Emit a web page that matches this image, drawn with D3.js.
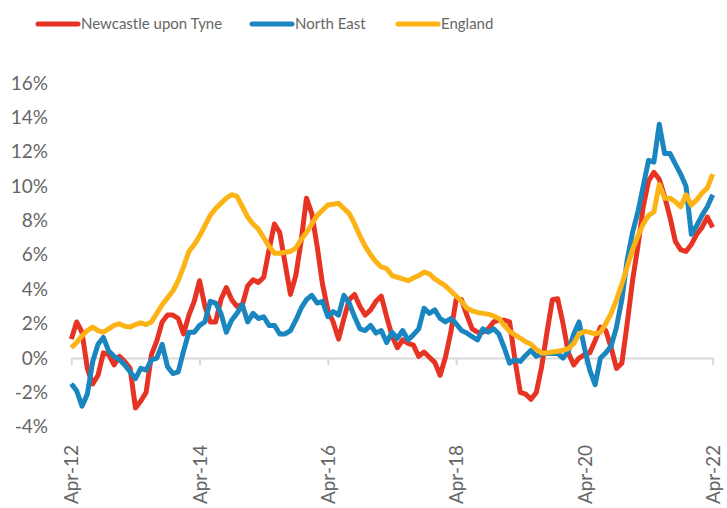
<!DOCTYPE html>
<html>
<head>
<meta charset="utf-8">
<script src="https://cdn.jsdelivr.net/npm/d3@7"></script>
<style>
  body { margin: 0; background: #fff; }
  text { font-family: Lato, "Open Sans", sans-serif; fill: #666; }
</style>
</head>
<body>
<svg id="chart" width="727" height="508"></svg>
<script>
// Monthly % change, Apr-12 .. Apr-22 (121 months)
var newcastle = [1.1, 2.1, 1.5, -0.6, -1.5, -1.0, 0.3, 0.2, -0.4, 0.1, -0.2, -0.6,
  -2.9, -2.5, -2.0, 0.2, 1.0, 2.1, 2.5, 2.5, 2.3, 1.4, 2.5, 3.3,
  4.5, 3.0, 2.1, 2.1, 3.4, 4.1, 3.4, 3.0, 3.1, 4.2, 4.55, 4.4,
  4.7, 6.3, 7.8, 7.3, 5.5, 3.7, 4.8, 6.8, 9.3, 8.4, 6.5, 4.3,
  2.8, 2.1, 1.1, 2.3, 3.4, 3.7, 3.0, 2.5, 2.8, 3.3, 3.6, 2.4,
  1.3, 0.6, 1.05, 0.85, 0.75, 0.1, 0.35, 0.05, -0.25, -1.0, 0.05, 1.5,
  3.4, 3.4, 2.5, 1.7, 1.5, 1.5, 1.7, 2.1, 2.2, 2.2, 2.1, -0.1,
  -2.0, -2.1, -2.4, -2.0, -0.5, 1.5, 3.4, 3.45, 2.0, 0.3, -0.4, 0.0,
  0.2, 0.3, 1.0, 1.8, 1.6, 0.6, -0.6, -0.3, 2.0, 4.5, 6.5, 8.8,
  10.3, 10.8, 10.4, 9.4, 8.2, 6.8, 6.3, 6.2, 6.6, 7.2, 7.6, 8.2,
  7.6];

var northEast = [-1.5, -1.9, -2.8, -2.1, -0.2, 0.8, 1.2, 0.4, 0.1, -0.1, -0.4, -0.8,
  -1.2, -0.6, -0.7, -0.1, 0.0, 0.8, -0.5, -0.9, -0.8, 0.4, 1.5, 1.5,
  1.9, 2.1, 3.3, 3.2, 2.6, 1.5, 2.2, 2.6, 3.1, 2.1, 2.6, 2.3,
  2.4, 1.9, 1.9, 1.4, 1.4, 1.6, 2.2, 2.9, 3.4, 3.65, 3.2, 3.3,
  2.4, 2.7, 2.5, 3.65, 3.2, 2.4, 1.7, 1.6, 1.9, 1.45, 1.6, 0.9,
  1.5, 1.15, 1.6, 1.05, 1.35, 1.7, 2.9, 2.6, 2.8, 2.3, 2.1, 2.3,
  2.0, 1.6, 1.45, 1.25, 1.05, 1.7, 1.5, 1.7, 1.4, 0.6, -0.3, -0.1,
  -0.2, 0.15, 0.45, 0.1, 0.25, 0.27, 0.27, 0.27, 0.0, 0.4, 1.4, 2.1,
  0.6, -0.7, -1.55, 0.0, 0.3, 0.7, 1.8, 3.4, 5.7, 7.3, 8.5, 10.0,
  11.5, 11.4, 13.6, 11.9, 11.9, 11.3, 10.7, 10.0, 7.2, 7.7, 8.3, 8.8,
  9.5];

var england = [0.6, 0.9, 1.3, 1.6, 1.8, 1.6, 1.5, 1.7, 1.9, 2.0, 1.85, 1.8,
  1.95, 2.05, 1.95, 2.1, 2.6, 3.1, 3.5, 3.9, 4.5, 5.3, 6.2, 6.6,
  7.1, 7.7, 8.3, 8.7, 9.0, 9.3, 9.5, 9.4, 8.8, 8.2, 7.8, 7.5,
  7.0, 6.5, 6.1, 6.1, 6.15, 6.2, 6.4, 6.9, 7.3, 7.8, 8.3, 8.6,
  8.9, 8.95, 9.0, 8.7, 8.4, 7.8, 7.1, 6.5, 6.0, 5.6, 5.3, 5.2,
  4.8, 4.7, 4.6, 4.5, 4.65, 4.8, 5.0, 4.9, 4.6, 4.4, 4.2, 3.9,
  3.6, 3.3, 2.9, 2.75, 2.65, 2.6, 2.55, 2.45, 2.3, 1.9, 1.55, 1.35,
  1.15, 0.95, 0.8, 0.5, 0.3, 0.3, 0.35, 0.4, 0.45, 0.55, 0.85, 1.4,
  1.55, 1.5, 1.4, 1.5, 2.0, 2.6, 3.4, 4.3, 5.3, 6.3, 7.1, 7.8,
  8.3, 8.5, 10.1, 9.3, 9.3, 9.1, 8.8, 9.5, 8.9, 9.2, 9.6, 9.9,
  10.7];

var xTickMonths = [0, 24, 48, 72, 96, 120];
var xTickLabels = ["Apr-12", "Apr-14", "Apr-16", "Apr-18", "Apr-20", "Apr-22"];
var yTicks = [-4, -2, 0, 2, 4, 6, 8, 10, 12, 14, 16];

var seriesNames = ["Newcastle upon Tyne", "North East", "England"];
var seriesColors = ["#e63323", "#1a86c0", "#fbb316"];
var seriesData = [newcastle, northEast, england];

var svg = d3.select("#chart");

var x = d3.scaleLinear().domain([0, 120]).range([71.3, 712.7]);
var y = d3.scaleLinear().domain([-4, 16]).range([426.8, 83]);

// y axis labels only
var yAxis = svg.append("g")
    .attr("transform", "translate(71,0)")
    .call(d3.axisLeft(y).tickValues(yTicks).tickSize(0).tickPadding(23)
        .tickFormat(function (d) { return d + "%"; }));
yAxis.select(".domain").remove();
yAxis.selectAll("text").style("font-size", "19px").attr("fill", "#666");

// x axis on the 0% line
var xAxis = svg.append("g")
    .attr("transform", "translate(0," + y(0) + ")")
    .call(d3.axisBottom(x).tickValues(xTickMonths).tickSize(7).tickSizeOuter(0)
        .tickFormat(function (d, i) { return xTickLabels[i]; }));
xAxis.select(".domain").attr("stroke", "#d9d9d9").attr("stroke-width", 2);
xAxis.selectAll(".tick line").attr("stroke", "#d9d9d9").attr("stroke-width", 2);
xAxis.selectAll("text")
    .style("font-size", "19px")
    .attr("fill", "#666")
    .attr("text-anchor", "end")
    .attr("transform", "rotate(-90)")
    .attr("x", -(445 - y(0)))
    .attr("y", 0)
    .attr("dy", "0.35em");

var line = d3.line()
    .x(function (d, i) { return x(i); })
    .y(function (d) { return y(d); });

svg.selectAll(".series")
    .data(seriesData)
    .enter().append("path")
    .attr("class", "series")
    .attr("d", line)
    .attr("fill", "none")
    .attr("stroke", function (d, i) { return seriesColors[i]; })
    .attr("stroke-width", 5)
    .attr("stroke-linejoin", "round");

// legend
var legendX = [38, 252, 398];
var legend = svg.selectAll(".legend")
    .data(seriesNames)
    .enter().append("g")
    .attr("class", "legend")
    .attr("transform", function (d, i) { return "translate(" + legendX[i] + ",24)"; });
legend.append("line")
    .attr("x1", 0).attr("x2", 40)
    .attr("stroke", function (d, i) { return seriesColors[i]; })
    .attr("stroke-width", 5)
    .attr("stroke-linecap", "round");
legend.append("text")
    .attr("x", 43)
    .attr("dy", "0.35em")
    .style("font-size", "15px")
    .text(function (d) { return d; });
</script>
</body>
</html>
